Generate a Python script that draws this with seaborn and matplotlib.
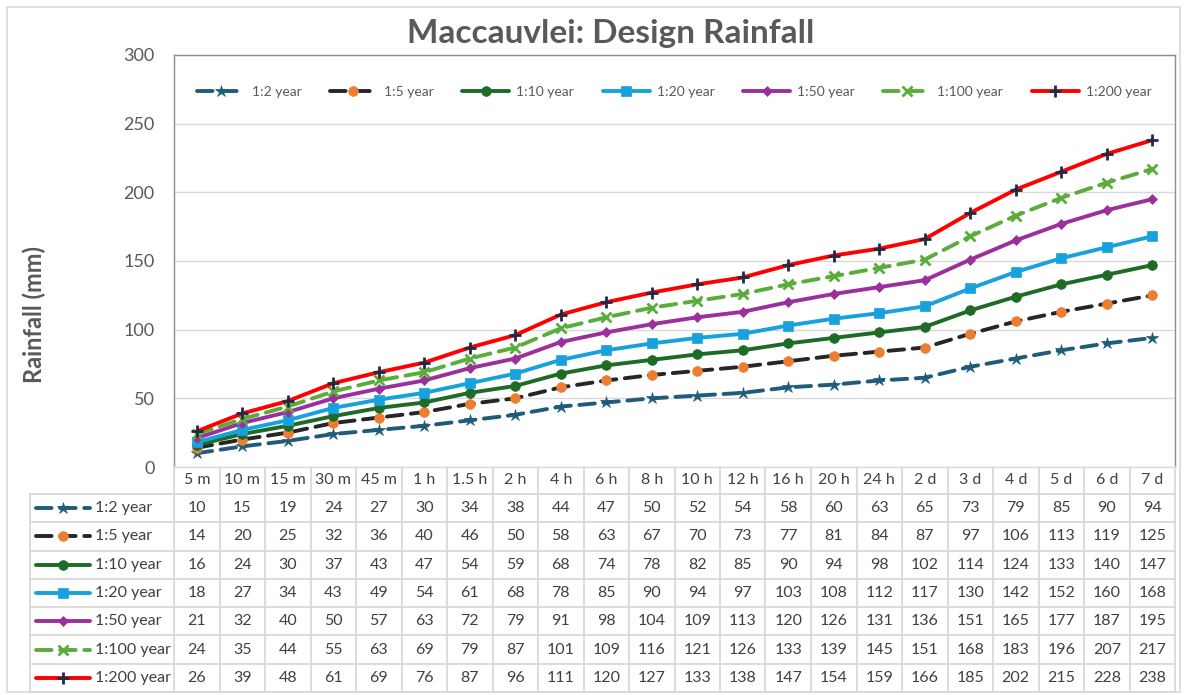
import matplotlib
matplotlib.use('Agg')
import matplotlib.pyplot as plt
import numpy as np
import seaborn as sns
from matplotlib.lines import Line2D
from matplotlib.patches import Rectangle

# durations (x categories)
durations = ['5 m', '10 m', '15 m', '30 m', '45 m', '1 h', '1.5 h', '2 h', '4 h',
             '6 h', '8 h', '10 h', '12 h', '16 h', '20 h', '24 h', '2 d', '3 d',
             '4 d', '5 d', '6 d', '7 d']

series_names = ['1:2 year', '1:5 year', '1:10 year', '1:20 year',
                '1:50 year', '1:100 year', '1:200 year']

r2 = [10, 15, 19, 24, 27, 30, 34, 38, 44, 47, 50, 52, 54, 58, 60, 63, 65, 73, 79, 85, 90, 94]
r5 = [14, 20, 25, 32, 36, 40, 46, 50, 58, 63, 67, 70, 73, 77, 81, 84, 87, 97, 106, 113, 119, 125]
r10 = [16, 24, 30, 37, 43, 47, 54, 59, 68, 74, 78, 82, 85, 90, 94, 98, 102, 114, 124, 133, 140, 147]
r20 = [18, 27, 34, 43, 49, 54, 61, 68, 78, 85, 90, 94, 97, 103, 108, 112, 117, 130, 142, 152, 160, 168]
r50 = [21, 32, 40, 50, 57, 63, 72, 79, 91, 98, 104, 109, 113, 120, 126, 131, 136, 151, 165, 177, 187, 195]
r100 = [24, 35, 44, 55, 63, 69, 79, 87, 101, 109, 116, 121, 126, 133, 139, 145, 151, 168, 183, 196, 207, 217]
r200 = [26, 39, 48, 61, 69, 76, 87, 96, 111, 120, 127, 133, 138, 147, 154, 159, 166, 185, 202, 215, 228, 238]

all_series = [r2, r5, r10, r20, r50, r100, r200]

# line styles per series
styles = [
    dict(color='#1f5c7a', ls=(0, (4, 2.2)), marker='*', mfc='#1f5c7a', mec='#1f5c7a', ms=9),
    dict(color='#262626', ls=(0, (4, 2.2)), marker='o', mfc='#ed7d31', mec='#ed7d31', ms=7),
    dict(color='#1d6b26', ls='-', marker='o', mfc='#1d6b26', mec='#1d6b26', ms=7),
    dict(color='#18a2dd', ls='-', marker='s', mfc='#18a2dd', mec='#18a2dd', ms=7),
    dict(color='#9b309b', ls='-', marker='D', mfc='#9b309b', mec='#9b309b', ms=5.5),
    dict(color='#5aac3b', ls=(0, (4, 2.2)), marker='x', mfc='#5aac3b', mec='#5aac3b', ms=7),
    dict(color='#ff0000', ls='-', marker='+', mfc='#1f2a44', mec='#1f2a44', ms=9),
]

sns.set_theme(style='white')
plt.rcParams['font.family'] = ['Lato', 'DejaVu Sans']

W, H = 1186, 695
def fx(px):
    return px / W
def fy(py):
    return 1 - py / H

fig = plt.figure(figsize=(W / 100, H / 100), dpi=100)
text_col = '#595959'

# outer chart border
fig.add_artist(Rectangle((fx(7), fy(692)), fx(1180) - fx(7), fy(7) - fy(692),
                         fill=False, ec='#d9d9d9', lw=1.2, transform=fig.transFigure))

ax_left, ax_right, ax_top, ax_bot = 174, 1175, 55, 467
ax = fig.add_axes([fx(ax_left), fy(ax_bot), fx(ax_right) - fx(ax_left), fy(ax_top) - fy(ax_bot)])

x = np.arange(len(durations))
for name, vals, st in zip(series_names, all_series, styles):
    sns.lineplot(x=x, y=vals, ax=ax, label=name, color=st['color'], linestyle=st['ls'],
                 linewidth=2.8, marker=st['marker'], markersize=st['ms'],
                 markerfacecolor=st['mfc'], markeredgecolor=st['mec'],
                 markeredgewidth=2 if st['marker'] in ('x', '+') else 0.5,
                 dash_capstyle='round')

ax.set_xlim(-0.5, len(durations) - 0.5)
ax.set_ylim(0, 300)
ax.set_yticks(range(0, 301, 50))
ax.set_xticks([])
ax.yaxis.grid(True, color='#d9d9d9', lw=1)
ax.tick_params(axis='y', length=0, pad=14, labelsize=13, labelcolor=text_col)
for s in ax.spines.values():
    s.set_color('#8c8c8c')
    s.set_linewidth(1)
ax.spines['bottom'].set_color('#d9d9d9')
ax.set_ylabel('Rainfall (mm)', fontsize=17, fontweight='bold', color=text_col)
ax.yaxis.set_label_coords(-0.128, 0.37)

ax.legend(loc='upper center', bbox_to_anchor=(0.5, 0.955), ncol=7, frameon=False,
          handlelength=3.4, columnspacing=2.05, handletextpad=0.5, fontsize=10,
          labelcolor=text_col)

fig.text(fx(611), fy(33), 'Maccauvlei: Design Rainfall', ha='center', va='center',
         fontsize=24, fontweight='bold', color=text_col)

# data table below the plot
grid_col = '#d9d9d9'
col_w = (ax_right - ax_left) / len(durations)
head_top, head_bot, tab_bot, lab_left = 467, 494, 692, 30
row_h = (tab_bot - head_bot) / len(series_names)

def hline(y, x0, x1):
    fig.add_artist(Line2D([fx(x0), fx(x1)], [fy(y), fy(y)], color=grid_col, lw=1.3,
                          transform=fig.transFigure))

def vline(xp, y0, y1):
    fig.add_artist(Line2D([fx(xp), fx(xp)], [fy(y0), fy(y1)], color=grid_col, lw=1.3,
                          transform=fig.transFigure))

for i in range(len(durations) + 1):
    vline(ax_left + i * col_w, head_top, tab_bot)
vline(lab_left, head_bot, tab_bot)
for k in range(len(series_names) + 1):
    hline(head_bot + k * row_h, lab_left, ax_right)

for i, d in enumerate(durations):
    fig.text(fx(ax_left + (i + 0.5) * col_w), fy((head_top + head_bot) / 2), d,
             ha='center', va='center', fontsize=11.5, color='#404040')

for k, (name, vals, st) in enumerate(zip(series_names, all_series, styles)):
    yc = head_bot + (k + 0.5) * row_h
    fig.add_artist(Line2D([fx(36), fx(63), fx(90)], [fy(yc)] * 3, color=st['color'],
                          linestyle=st['ls'], lw=2.8, marker=st['marker'], markevery=[1],
                          markersize=st['ms'], markerfacecolor=st['mfc'],
                          markeredgecolor=st['mec'],
                          markeredgewidth=2 if st['marker'] in ('x', '+') else 0.5,
                          dash_capstyle='round', transform=fig.transFigure))
    fig.text(fx(95), fy(yc), name, ha='left', va='center', fontsize=11.5, color='#404040')
    for i, v in enumerate(vals):
        fig.text(fx(ax_left + (i + 0.5) * col_w), fy(yc), str(v), ha='center', va='center',
                 fontsize=11.5, color='#404040')

fig.savefig('out.png', dpi=100)
